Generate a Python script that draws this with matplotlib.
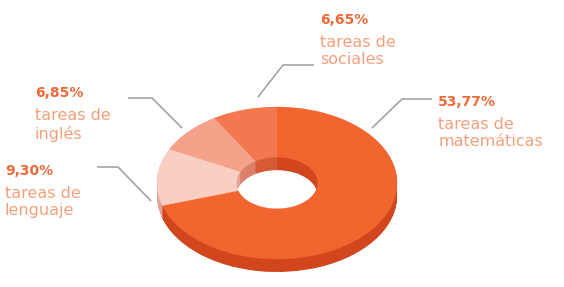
import matplotlib
matplotlib.use("Agg")
import matplotlib.pyplot as plt

# ---- data ----
categories = ["tareas de\nmatemáticas", "tareas de\nlenguaje", "tareas de\ninglés", "tareas de\nsociales"]
values = [53.77, 9.30, 6.85, 6.65]
pct_labels = ["53,77%", "9,30%", "6,85%", "6,65%"]

top_colors = ["#F2652F", "#F9CFC4", "#F5A28B", "#F3774F"]
side_colors = ["#D1461C", "#E0A596", "#DA8068", "#D65A34"]

W, H = 564, 287
fig = plt.figure(figsize=(W / 100, H / 100), dpi=100)
fig.patch.set_facecolor("white")

# donut axes (elliptical via non-equal aspect)
left_px, right_px, top_px, bot_px = 157, 397, 107, 272
half_h_px = 76
ax = fig.add_axes([left_px / W, (H - bot_px) / H, (right_px - left_px) / W, (bot_px - top_px) / H])
depth = (bot_px - top_px) / half_h_px - 2.0
nlay = 24
for i in range(nlay, 0, -1):
    cy = -depth * i / nlay
    ax.pie(values, colors=side_colors, startangle=90, counterclock=False,
           radius=1.0, center=(0, cy),
           wedgeprops=dict(width=0.66, edgecolor="none", linewidth=0, antialiased=True))
ax.pie(values, colors=top_colors, startangle=90, counterclock=False,
       radius=1.0, center=(0, 0),
       wedgeprops=dict(width=0.66, edgecolor=None, linewidth=0.3))
for w, c in zip(ax.patches[-len(values):], top_colors):
    w.set_edgecolor(c)
ax.set_aspect("auto")
ax.set_xlim(-1, 1)
ax.set_ylim(-1 - depth, 1)
ax.axis("off")

# overlay for labels, pixel coordinates
ov = fig.add_axes([0, 0, 1, 1], zorder=5)
ov.set_xlim(0, W)
ov.set_ylim(H, 0)
ov.axis("off")
ov.patch.set_alpha(0)

label_pos = [(438, 95), (5, 164), (35, 86), (320, 13)]
leaders = [
    [(432, 99), (402, 99), (372, 128)],
    [(97, 167), (118, 167), (151, 201)],
    [(128, 98), (152, 98), (182, 128)],
    [(314, 65), (283, 65), (258, 97)],
]
pct_color = "#EE6A38"
txt_color = "#F3A07C"
for (x, y), p, c, ln in zip(label_pos, pct_labels, categories, leaders):
    ov.text(x, y, p, fontsize=10, fontweight="bold", color=pct_color,
            va="top", ha="left", family="DejaVu Sans")
    ov.text(x, y + 22, c, fontsize=11.5, color=txt_color, va="top", ha="left",
            family="DejaVu Sans", linespacing=1.2)
    xs = [q[0] for q in ln]
    ys = [q[1] for q in ln]
    ov.plot(xs, ys, color="#A8A29E", lw=1.2, solid_capstyle="butt")

fig.savefig("out.png", dpi=100, facecolor="white")
